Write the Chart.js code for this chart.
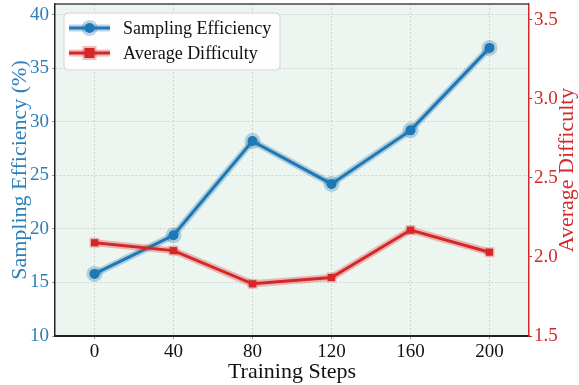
<!DOCTYPE html>
<html>
<head>
<meta charset="utf-8">
<script src="https://cdn.jsdelivr.net/npm/chart.js@4.4.1/dist/chart.umd.min.js"></script>
<style>
  html, body { margin: 0; padding: 0; background: #fff; }
  #wrap { width: 579px; height: 385px; }
</style>
</head>
<body>
<div id="wrap"><canvas id="myChart"></canvas></div>
<script>
const steps = ['0', '40', '80', '120', '160', '200'];
const efficiency = [15.8, 19.4, 28.2, 24.2, 29.2, 36.9];
const difficulty = [2.09, 2.04, 1.83, 1.87, 2.17, 2.03];
const effTicks = [10, 15, 20, 25, 30, 35, 40];
const diffTicks = [1.5, 2.0, 2.5, 3.0, 3.5];

const blue = '#1f77b4';
const red = '#d62728';
const blueText = '#2b7fba';
const redText = '#d62728';
const serif = "'Liberation Serif', 'Times New Roman', serif";

// background, top spine, right axis title and the legend box drawn by hand
const frame = {
    id: 'frame',
    beforeDraw(chart) {
        const a = chart.chartArea, ctx = chart.ctx;
        ctx.save();
        ctx.fillStyle = '#edf5f0';
        ctx.fillRect(a.left, a.top, a.right - a.left, a.bottom - a.top);
        ctx.restore();
    },
    afterDraw(chart) {
        const a = chart.chartArea, ctx = chart.ctx;
        ctx.save();
        ctx.strokeStyle = '#444';
        ctx.lineWidth = 1.5;
        ctx.beginPath();
        ctx.moveTo(a.left, a.top);
        ctx.lineTo(a.right, a.top);
        ctx.stroke();

        // right axis title, reads bottom to top like matplotlib
        ctx.save();
        ctx.translate(567, (a.top + a.bottom) / 2);
        ctx.rotate(-Math.PI / 2);
        ctx.fillStyle = redText;
        ctx.font = '22px ' + serif;
        ctx.textAlign = 'center';
        ctx.textBaseline = 'middle';
        ctx.fillText('Average Difficulty', 0, 0);
        ctx.restore();

        // legend
        const x = a.left + 9, y = a.top + 9, w = 216, h = 57;
        ctx.fillStyle = 'rgba(255,255,255,0.85)';
        ctx.strokeStyle = '#d5d5d5';
        ctx.lineWidth = 1;
        ctx.beginPath();
        ctx.roundRect(x, y, w, h, 4);
        ctx.fill();
        ctx.stroke();

        const items = [
            {label: 'Sampling Efficiency', color: blue, shape: 'circle'},
            {label: 'Average Difficulty', color: red, shape: 'square'}
        ];
        items.forEach((it, i) => {
            const cy = y + 15 + i * 25;
            const x0 = x + 5, x1 = x + 46, mx = (x0 + x1) / 2;
            ctx.lineCap = 'butt';
            ctx.strokeStyle = it.color;
            ctx.fillStyle = it.color;
            ctx.globalAlpha = 0.3;
            ctx.lineWidth = 7;
            ctx.beginPath(); ctx.moveTo(x0, cy); ctx.lineTo(x1, cy); ctx.stroke();
            if (it.shape === 'circle') {
                ctx.beginPath(); ctx.arc(mx, cy, 8, 0, Math.PI * 2); ctx.fill();
            } else {
                ctx.fillRect(mx - 7, cy - 7, 14, 14);
            }
            ctx.globalAlpha = 1;
            ctx.lineWidth = 3;
            ctx.beginPath(); ctx.moveTo(x0, cy); ctx.lineTo(x1, cy); ctx.stroke();
            if (it.shape === 'circle') {
                ctx.beginPath(); ctx.arc(mx, cy, 5, 0, Math.PI * 2); ctx.fill();
            } else {
                ctx.fillRect(mx - 5, cy - 5, 10, 10);
            }
            ctx.fillStyle = '#111';
            ctx.font = '18px ' + serif;
            ctx.textBaseline = 'middle';
            ctx.fillText(it.label, x + 59, cy + 1);
        });
        ctx.restore();
    }
};

const data = {
    labels: steps,
    datasets: [
        {
            label: 'Average Difficulty',
            data: difficulty,
            yAxisID: 'y1',
            borderColor: red,
            backgroundColor: red,
            borderWidth: 3,
            pointStyle: 'rect',
            pointRadius: 5,
            pointBorderWidth: 0,
            order: 0
        },
        {
            label: 'difficulty glow',
            data: difficulty,
            yAxisID: 'y1',
            borderColor: 'rgba(214,39,40,0.3)',
            backgroundColor: 'rgba(214,39,40,0.3)',
            borderWidth: 7,
            pointStyle: 'rect',
            pointRadius: 7,
            pointBorderWidth: 0,
            order: 1
        },
        {
            label: 'Sampling Efficiency',
            data: efficiency,
            yAxisID: 'y',
            borderColor: blue,
            backgroundColor: blue,
            borderWidth: 3,
            pointStyle: 'circle',
            pointRadius: 5,
            pointBorderWidth: 0,
            order: 2
        },
        {
            label: 'efficiency glow',
            data: efficiency,
            yAxisID: 'y',
            borderColor: 'rgba(31,119,180,0.3)',
            backgroundColor: 'rgba(31,119,180,0.3)',
            borderWidth: 7,
            pointStyle: 'circle',
            pointRadius: 8,
            pointBorderWidth: 0,
            order: 3
        }
    ]
};

const config = {
    type: 'line',
    data: data,
    plugins: [frame],
    options: {
        responsive: true,
        maintainAspectRatio: false,
        animation: false,
        layout: { autoPadding: false, padding: { top: 4, right: 0, left: 0, bottom: 0 } },
        plugins: {
            legend: { display: false },
            tooltip: { enabled: false }
        },
        scales: {
            x: {
                type: 'category',
                offset: true,
                grid: {
                    offset: false,
                    color: 'rgba(150,150,150,0.45)',
                    lineWidth: 0.8,
                    tickColor: '#999',
                    tickLength: 3,
                    tickWidth: 1
                },
                border: { color: '#222', width: 2, dash: [2, 2] },
                ticks: { color: '#111', font: { family: serif, size: 19 }, padding: 2 },
                title: {
                    display: true,
                    text: 'Training Steps',
                    color: '#111',
                    font: { family: serif, size: 22 },
                    padding: { top: 0, bottom: 0 }
                },
                afterFit(s) { s.height = 49; s.paddingLeft = 0; s.paddingRight = 0; }
            },
            y: {
                position: 'left',
                min: 10,
                max: 41,
                afterBuildTicks(s) { s.ticks = effTicks.map(v => ({value: v})); },
                ticks: { color: blueText, font: { family: serif, size: 19 }, padding: 3 },
                grid: {
                    color: 'rgba(150,150,150,0.45)',
                    lineWidth: 0.8,
                    tickColor: '#999',
                    tickLength: 3,
                    tickWidth: 1
                },
                border: { color: '#222', width: 1.5, dash: [2, 2] },
                title: {
                    display: true,
                    text: 'Sampling Efficiency (%)',
                    color: blueText,
                    font: { family: serif, size: 22 },
                    padding: { top: 7, bottom: 0 }
                },
                afterFit(s) { s.width = 55; s.paddingTop = 0; s.paddingBottom = 0; }
            },
            y1: {
                position: 'right',
                min: 1.5,
                max: 3.6,
                afterBuildTicks(s) { s.ticks = diffTicks.map(v => ({value: v})); },
                ticks: {
                    color: redText,
                    font: { family: serif, size: 19 },
                    padding: 2,
                    callback: v => Number(v).toFixed(1)
                },
                grid: {
                    drawOnChartArea: false,
                    tickColor: redText,
                    tickLength: 3,
                    tickWidth: 1
                },
                border: { color: redText, width: 1.5 },
                title: { display: false },
                afterFit(s) { s.width = 50; s.paddingTop = 0; s.paddingBottom = 0; }
            }
        }
    }
};

const myChart = new Chart(document.getElementById('myChart'), config);
</script>
</body>
</html>
